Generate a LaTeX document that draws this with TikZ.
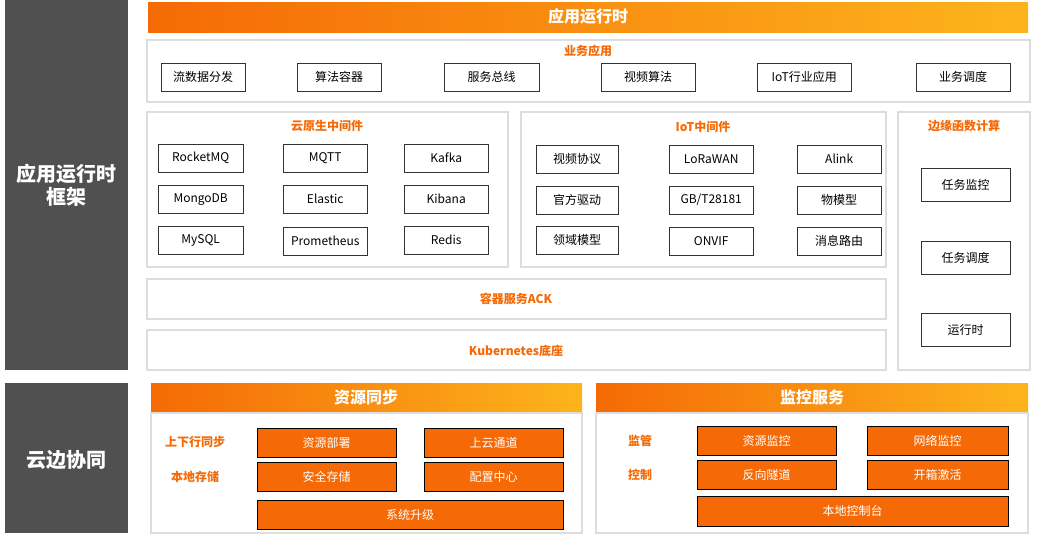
\documentclass[tikz,border=0pt]{standalone}
\usepackage{fontspec}
\setmainfont{Noto Sans CJK SC}
\definecolor{darkgray}{HTML}{505050}
\definecolor{orangeA}{HTML}{F56A06}
\definecolor{orangeB}{HTML}{FDB41C}
\definecolor{panelline}{HTML}{DDDDDD}
\tikzset{
  sidebar/.style={fill=darkgray, text=white, font=\fontsize{20}{23}\selectfont\bfseries, align=center},
  headtext/.style={text=white, font=\fontsize{16}{19}\selectfont\bfseries},
  panel/.style={draw=panelline, fill=white, line width=1.2pt},
  ptitle/.style={text=orangeA, font=\fontsize{12}{14}\selectfont\bfseries},
  wbox/.style={draw=black!80, fill=white, font=\fontsize{12}{14}\selectfont, anchor=north west, inner sep=0pt},
  obox/.style={draw=black, fill=orangeA, text=white, font=\fontsize{12}{14}\selectfont, anchor=north west, inner sep=0pt}
}
\newcommand{\wb}[6]{\node[wbox, minimum width=#4pt, minimum height=#5pt] (#1) at (#2,#3) {#6};}
\newcommand{\ob}[6]{\node[obox, minimum width=#4pt, minimum height=#5pt] (#1) at (#2,#3) {#6};}
\begin{document}
\begin{tikzpicture}[x=1pt,y=-1pt]
\useasboundingbox (0,0) rectangle (1042,546);

% Side bars
\fill[darkgray] (5,0) rectangle (128,370);
\node[sidebar] (runtimeSide) at (66.5,185) {应用运行时\\框架};
\fill[darkgray] (5,383) rectangle (128,533);
\node[sidebar] (edgeSide) at (66.5,460) {云边协同};

% Top header
\shade[left color=orangeA, right color=orangeB] (148,2) rectangle (1028,32);
\node[headtext] (runtimeHead) at (588,16) {应用运行时};

% Business apps
\draw[panel] (147,40) rectangle (1030,102);
\node[ptitle] (bizTitle) at (588,51) {业务应用};
\wb{liu}{161}{63}{84}{28}{流数据分发}
\wb{suan}{297}{63}{84}{28}{算法容器}
\wb{bus}{444}{63}{95}{28}{服务总线}
\wb{video}{601}{63}{94}{28}{视频算法}
\wb{iotapp}{757}{63}{94}{28}{IoT行业应用}
\wb{sched}{916}{63}{94}{28}{业务调度}

% Cloud native middleware
\draw[panel] (147,112) rectangle (508,267);
\node[ptitle] (cnTitle) at (327,126) {云原生中间件};
\wb{rocket}{158}{144}{85}{28}{RocketMQ}
\wb{mqtt}{283}{144}{84}{28}{MQTT}
\wb{kafka}{404}{144}{84}{28}{Kafka}
\wb{mongo}{158}{185}{85}{28}{MongoDB}
\wb{elastic}{283}{185}{84}{28}{Elastic}
\wb{kibana}{404}{185}{84}{28}{Kibana}
\wb{mysql}{158}{226}{85}{28}{MySQL}
\wb{prom}{283}{227}{84}{28}{Prometheus}
\wb{redis}{404}{226}{84}{28}{Redis}

% IoT middleware
\draw[panel] (521,112) rectangle (886,267);
\node[ptitle] (iotTitle) at (703,127) {IoT中间件};
\wb{vproto}{536}{145}{82}{28}{视频协议}
\wb{lora}{669}{145}{84}{28}{LoRaWAN}
\wb{alink}{797}{145}{84}{28}{Alink}
\wb{driver}{536}{186}{82}{28}{官方驱动}
\wb{gbt}{669}{186}{84}{28}{GB/T28181}
\wb{thing}{797}{186}{84}{28}{物模型}
\wb{domain}{536}{226}{82}{28}{领域模型}
\wb{onvif}{669}{227}{84}{28}{ONVIF}
\wb{route}{797}{227}{84}{28}{消息路由}

% Edge function
\draw[panel] (898,112) rectangle (1030,370);
\node[ptitle] (fcTitle) at (964,126) {边缘函数计算};
\wb{tmon}{921}{168}{89}{33}{任务监控}
\wb{tsched}{921}{241}{89}{33}{任务调度}
\wb{trun}{921}{313}{89}{33}{运行时}

% ACK and Kubernetes
\draw[panel] (147,279) rectangle (886,319);
\node[ptitle] (ack) at (516,299) {容器服务ACK};
\draw[panel] (147,330) rectangle (886,370);
\node[ptitle] (k8s) at (516,351) {Kubernetes底座};

% Resource sync
\shade[left color=orangeA, right color=orangeB] (151,383) rectangle (582,412);
\node[headtext] (syncHead) at (366,397) {资源同步};
\draw[panel] (151,413) rectangle (582,533);
\node[ptitle] (updown) at (195,442) {上下行同步};
\node[ptitle] (lstore) at (195,477) {本地存储};
\ob{deploy}{257}{428}{139}{29}{资源部署}
\ob{upch}{424}{428}{139}{29}{上云通道}
\ob{secst}{257}{462}{139}{29}{安全存储}
\ob{cfg}{424}{462}{139}{29}{配置中心}
\ob{upgrade}{257}{500}{306}{29}{系统升级}

% Monitor service
\shade[left color=orangeA, right color=orangeB] (596,383) rectangle (1028,412);
\node[headtext] (monHead) at (812,397) {监控服务};
\draw[panel] (596,413) rectangle (1028,533);
\node[ptitle] (superv) at (640,441) {监管};
\node[ptitle] (ctrl) at (640,475) {控制};
\ob{resmon}{697}{426}{139}{29}{资源监控}
\ob{netmon}{867}{426}{141}{29}{网络监控}
\ob{tunnel}{697}{460}{139}{29}{反向隧道}
\ob{activ}{867}{460}{141}{29}{开箱激活}
\ob{console}{697}{496}{311}{30}{本地控制台}
\end{tikzpicture}
\end{document}
